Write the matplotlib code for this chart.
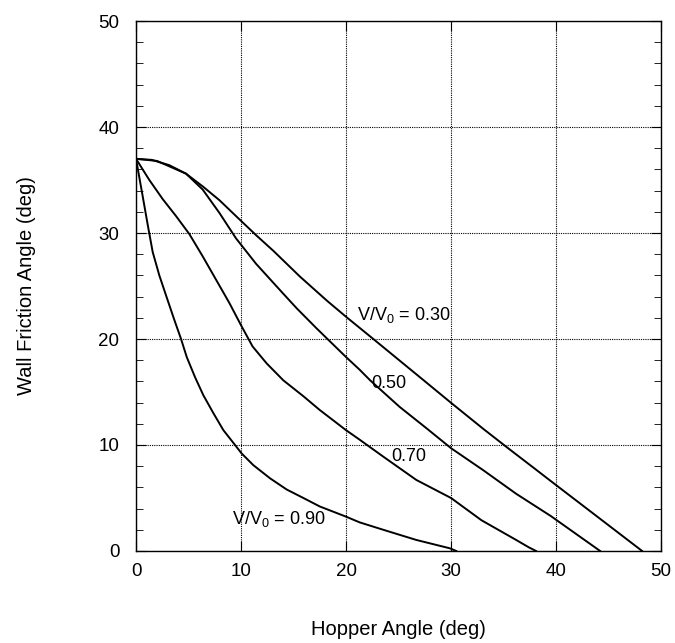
import matplotlib
matplotlib.use("Agg")
import matplotlib.pyplot as plt
from matplotlib.ticker import MultipleLocator

plt.rcParams['font.family'] = ['Liberation Sans', 'DejaVu Sans']
plt.rcParams['mathtext.fontset'] = 'custom'
plt.rcParams['mathtext.rm'] = 'Liberation Sans'

# 读图得到的曲线数据 (hopper angle, wall friction angle)
x30 = [0, 1.5, 3.17, 4.76, 6.35, 7.94, 9.52, 11.43, 13.1, 15.6, 18.2, 20, 22.6, 27.4, 30.1, 33.1, 35.3, 37.8, 39.5, 48.2]
y30 = [37, 36.9, 36.4, 35.6, 34.4, 33.1, 31.6, 29.8, 28.3, 25.9, 23.6, 22.1, 20.0, 16.1, 13.9, 11.5, 9.8, 7.9, 6.6, 0]

x50 = [0, 2.0, 4.76, 6.35, 7.94, 9.52, 11.43, 14.0, 15.3, 17.2, 20, 21.3, 22.3, 25.1, 27.7, 30, 33.1, 36.2, 39.5, 44.2]
y50 = [37, 36.8, 35.6, 34.1, 31.9, 29.5, 27.1, 24.3, 22.9, 21.0, 18.3, 17.1, 16.1, 13.6, 11.55, 9.7, 7.6, 5.4, 3.3, 0]

x70 = [0, 1.27, 2.54, 3.81, 5.08, 6.35, 7.62, 8.89, 10, 11.1, 12.44, 14.03, 15.94, 17.5, 20, 21.3,
       23.55, 26.7, 30, 32.9, 36.1, 37.4, 38.1]
y70 = [37, 35.0, 33.2, 31.6, 29.9, 27.8, 25.6, 23.4, 21.3, 19.3, 17.7, 16.1, 14.6, 13.3, 11.4, 10.5,
       8.9, 6.7, 5.0, 2.9, 1.1, 0.35, 0]

x90 = [0, 0.63, 1.11, 1.59, 2.22, 3.0, 3.65, 4.29, 4.83, 5.62, 6.41, 7.37, 8.32, 9.43, 10.06, 11.17,
       12.76, 14.35, 15.94, 17.5, 20.0, 21.3, 23.55, 26.7, 29.9, 30.5]
y90 = [37, 33.5, 30.8, 28.2, 26.0, 23.7, 21.8, 20.0, 18.3, 16.4, 14.7, 13.0, 11.4, 10.0, 9.2, 8.1,
       6.86, 5.8, 5.0, 4.2, 3.24, 2.7, 2.0, 1.04, 0.25, 0]

labels = ['V/V$_0$ = 0.30', '0.50', '0.70', 'V/V$_0$ = 0.90']
label_xy = [(21.0, 22.3), (22.4, 15.8), (24.35, 8.9), (9.1, 3.0)]

fig = plt.figure(figsize=(6.75, 6.43), dpi=100)
ax = fig.add_axes([0.2015, 0.1431, 0.7778, 0.8242])

for xs, ys in [(x30, y30), (x50, y50), (x70, y70), (x90, y90)]:
    ax.plot(xs, ys, color='black', linewidth=1.4)

for txt, (tx, ty) in zip(labels, label_xy):
    ax.text(tx, ty, txt, fontsize=13, va='center', ha='left')

ax.set_xlim(0, 50)
ax.set_ylim(0, 50)
ax.xaxis.set_major_locator(MultipleLocator(10))
ax.yaxis.set_major_locator(MultipleLocator(10))
ax.yaxis.set_minor_locator(MultipleLocator(2))
ax.grid(True, which='major', color='black', linestyle=(0, (1, 1)), linewidth=0.8)

ax.tick_params(which='both', direction='in', top=True, right=True, labelsize=13.5)
ax.tick_params(axis='x', which='major', length=7, pad=9)
ax.tick_params(axis='y', which='major', length=7, pad=12)
ax.tick_params(which='minor', length=5)
for sp in ax.spines.values():
    sp.set_linewidth(1.0)

ax.set_xlabel('Hopper Angle (deg)', fontsize=14.5)
ax.set_ylabel('Wall Friction Angle (deg)', fontsize=14.5)
ax.xaxis.set_label_coords(0.5, -0.13)
ax.yaxis.set_label_coords(-0.19, 0.5)

plt.savefig("out.png", dpi=100)
